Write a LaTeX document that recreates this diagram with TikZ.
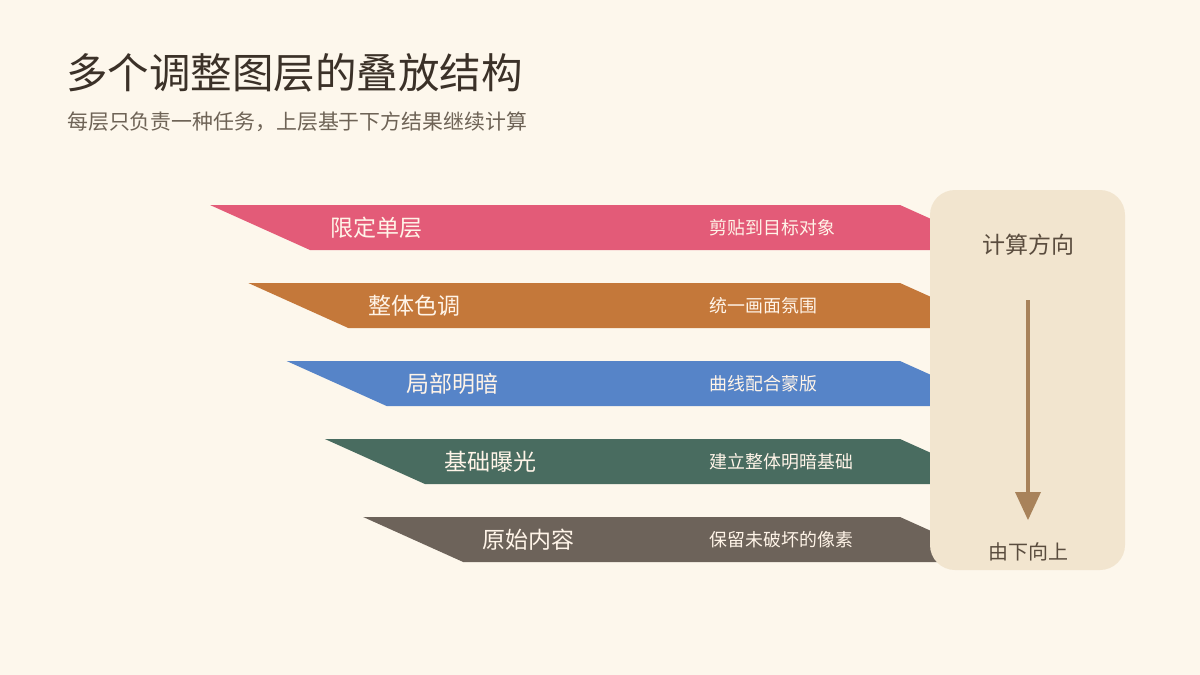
\documentclass[tikz,border=0pt]{standalone}
\usepackage{fontspec}
\setmainfont{Noto Sans CJK SC}
\newfontfamily\cjk{Noto Sans CJK SC}
\definecolor{bg}{HTML}{FDF7EC}
\definecolor{panelc}{HTML}{F2E5CF}
\definecolor{arrowc}{HTML}{A8825A}
\definecolor{titlec}{HTML}{3B3128}
\definecolor{subc}{HTML}{6E6356}
\definecolor{panelt}{HTML}{5A4C3E}
\definecolor{bandt}{HTML}{FFF4E8}
\definecolor{c1}{HTML}{E35B78}
\definecolor{c2}{HTML}{C4783A}
\definecolor{c3}{HTML}{5684C8}
\definecolor{c4}{HTML}{496C60}
\definecolor{c5}{HTML}{6D635A}
\tikzset{
  mainlab/.style={text=bandt,font=\cjk\fontsize{23}{27}\selectfont,inner sep=0pt},
  sidelab/.style={text=bandt,font=\cjk\fontsize{17.9}{21}\selectfont,inner sep=0pt,anchor=west},
}
\begin{document}
\begin{tikzpicture}[x=1pt,y=-1pt]
\fill[bg] (0,0) rectangle (1200,675);
\useasboundingbox (0,0) rectangle (1200,675);
\node[anchor=west,inner sep=0pt,text=titlec,font=\cjk\fontsize{41.5}{48}\selectfont] (title) at (66,73) {多个调整图层的叠放结构};
\node[anchor=west,inner sep=0pt,text=subc,font=\cjk\fontsize{20.9}{24}\selectfont] (sub) at (67,122) {每层只负责一种任务，上层基于下方结果继续计算};
% bands
\foreach \i/\col/\a/\b in {0/c1/限定单层/剪贴到目标对象,1/c2/整体色调/统一画面氛围,2/c3/局部明暗/曲线配合蒙版,3/c4/基础曝光/建立整体明暗基础,4/c5/原始内容/保留未破坏的像素}{
  \pgfmathsetmacro{\yt}{205+78*\i}
  \pgfmathsetmacro{\yb}{\yt+45}
  \pgfmathsetmacro{\xl}{210+38.3*\i}
  \fill[\col] (\xl,\yt) -- (900,\yt) -- (1000,\yb) -- (\xl+100,\yb) -- cycle;
  \node[mainlab] (m\i) at (376+38.2*\i,\yt+22.5) {\a};
  \node[sidelab] (s\i) at (709.5,\yt+22.5) {\b};
}
% panel
\fill[panelc,rounded corners=25pt] (930,190) rectangle (1125,570);
\node[inner sep=0pt,text=panelt,font=\cjk\fontsize{23}{27}\selectfont] (top) at (1028,245) {计算方向};
\node[inner sep=0pt,text=panelt,font=\cjk\fontsize{20}{23}\selectfont] (bot) at (1028,552) {由下向上};
\coordinate (as) at (1028,300);
\coordinate (ah) at (1028,493);
\coordinate (at) at (1028,520);
\draw[arrowc,line width=4.5pt] (as) -- (ah);
\fill[arrowc] (1015,492) -- (1041,492) -- (at) -- cycle;
\end{tikzpicture}
\end{document}
